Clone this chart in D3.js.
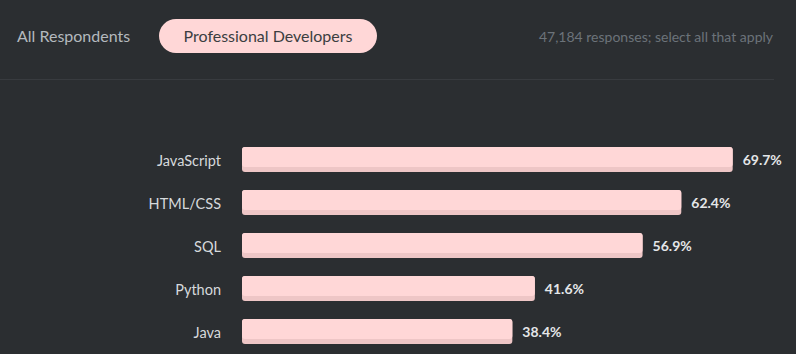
<!doctype html>
<html>
<head>
<style>
  body { margin: 0; background: #2b2e31; }
  svg { display: block; font-family: Lato, "Source Sans Pro", sans-serif; }
</style>
<script src="https://d3js.org/d3.v7.min.js"></script>
</head>
<body>
<script>
// data
var languages = ["JavaScript", "HTML/CSS", "SQL", "Python", "Java"];
var shares = [69.7, 62.4, 56.9, 41.6, 38.4];
var tabs = ["All Respondents", "Professional Developers"];
var note = "47,184 responses; select all that apply";

var width = 796, height = 354;

var svg = d3.select("body").append("svg")
    .attr("width", width)
    .attr("height", height);

svg.append("rect")
    .attr("width", width).attr("height", height)
    .attr("fill", "#2b2e31");

// header tabs
svg.append("text")
    .attr("x", 17).attr("y", 42)
    .attr("font-size", 16)
    .attr("fill", "#b4b9be")
    .text(tabs[0]);

svg.append("rect")
    .attr("x", 159).attr("y", 19)
    .attr("width", 218).attr("height", 34)
    .attr("rx", 17)
    .attr("fill", "#ffd7d7");

svg.append("text")
    .attr("x", 268).attr("y", 42)
    .attr("text-anchor", "middle")
    .attr("font-size", 16)
    .attr("fill", "#3b3e41")
    .text(tabs[1]);

svg.append("text")
    .attr("x", 773).attr("y", 42)
    .attr("text-anchor", "end")
    .attr("font-size", 14)
    .attr("fill", "#6c737a")
    .text(note);

svg.append("line")
    .attr("x1", 0).attr("x2", 774)
    .attr("y1", 79.5).attr("y2", 79.5)
    .attr("stroke", "#383b3f");

// chart
var x = d3.scaleLinear().domain([0, 100]).range([242, 946]);
var y = d3.scaleBand().domain(languages).range([147, 344]).paddingInner(18 / 43);

var rows = svg.selectAll(".row")
    .data(languages)
    .enter().append("g")
    .attr("class", "row");

// darker base for the bottom edge
rows.append("rect")
    .attr("x", x(0))
    .attr("y", function(d) { return y(d); })
    .attr("width", function(d, i) { return x(shares[i]) - x(0); })
    .attr("height", y.bandwidth())
    .attr("rx", 3)
    .attr("fill", "#eec6c6");

rows.append("rect")
    .attr("x", x(0))
    .attr("y", function(d) { return y(d); })
    .attr("width", function(d, i) { return x(shares[i]) - x(0); })
    .attr("height", y.bandwidth() - 5)
    .attr("rx", 3)
    .attr("fill", "#ffd7d7");

rows.append("text")
    .attr("x", 221)
    .attr("y", function(d) { return y(d) + y.bandwidth() / 2 + 1; })
    .attr("dy", "0.35em")
    .attr("text-anchor", "end")
    .attr("font-size", 14.5)
    .attr("fill", "#d6d9dc")
    .text(function(d) { return d; });

rows.append("text")
    .attr("x", function(d, i) { return x(shares[i]) + 10; })
    .attr("y", function(d) { return y(d) + y.bandwidth() / 2 + 1; })
    .attr("dy", "0.35em")
    .attr("font-size", 14)
    .attr("font-weight", "bold")
    .attr("fill", "#e4e6e8")
    .text(function(d, i) { return shares[i].toFixed(1) + "%"; });
</script>
</body>
</html>
